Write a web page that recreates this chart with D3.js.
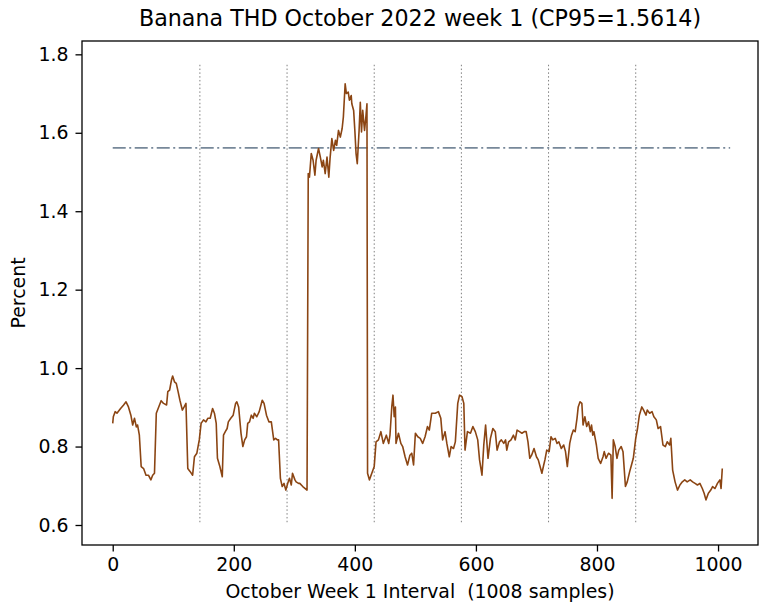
<!DOCTYPE html>
<html>
<head>
<meta charset="utf-8">
<script src="https://cdn.jsdelivr.net/npm/d3@7"></script>
<style>
  html, body { margin: 0; padding: 0; background: #fff; }
  svg { display: block; font-family: "DejaVu Sans", sans-serif; }
  text { white-space: pre; }
</style>
</head>
<body>
<svg id="chart" width="759" height="606"></svg>
<script>
// ---- data ----
const titleText = "Banana THD October 2022 week 1 (CP95=1.5614)";
const xLabelText = "October Week 1 Interval  (1008 samples)";
const yLabelText = "Percent";
const cp95 = 1.5614;
const hlineStart = 0, hlineEnd = 1020;
const dayMarks = [144, 288, 432, 576, 720, 864];
const dayMarkLow = 0.607, dayMarkHigh = 1.776;
const xTicks = [0, 200, 400, 600, 800, 1000];
const yTicks = [0.6, 0.8, 1.0, 1.2, 1.4, 1.6, 1.8];

const sampleIdx = [
  0,1,4,7,13,18,22,26,30,33,36,39,41,44,47,51,55,59,63,66,69,72,76,80,84,89,91,94,97,99,
  102,105,108,111,115,118,121,124,128,132,135,139,143,146,150,154,157,161,165,168,171,173,177,181,183,186,189,191,195,199,
  203,205,208,212,215,218,221,223,226,229,232,234,238,242,247,250,254,258,262,266,269,272,274,277,280,283,286,289,292,295,
  297,301,303,307,309,314,321,323,325,328,331,334,336,340,343,346,348,351,354,357,359,362,365,368,370,373,376,379,381,384,
  386,389,391,394,395,398,400,402,404,407,409,411,413,416,418,420,421,424,428,432,435,439,443,447,452,456,458,461,463,465,
  467,468,472,476,479,483,487,491,494,497,500,504,508,512,516,520,523,527,533,538,542,545,549,552,556,559,563,566,570,573,
  577,580,582,586,591,595,599,603,606,610,613,616,620,624,628,632,635,639,642,646,649,651,654,658,662,665,668,672,676,680,
  683,686,689,692,696,700,703,706,709,712,714,717,721,724,727,731,734,737,741,745,748,751,755,758,761,764,767,769,772,775,
  777,780,783,786,789,791,793,795,799,802,806,810,812,815,819,823,825,827,830,833,836,840,843,847,850,854,857,860,864,867,
  870,874,877,881,883,887,891,894,898,901,905,909,913,916,920,922,925,929,933,937,941,945,949,954,958,962,966,970,974,977,
  980,984,988,991,995,999,1003,1005,1007
];
const thd = [
  0.859,0.876,0.889,0.885,0.897,0.906,0.914,0.901,0.880,0.855,0.872,0.850,0.855,0.829,0.749,0.744,0.727,0.727,0.715,0.727,0.732,0.885,0.901,0.917,0.910,0.906,0.940,0.944,0.969,0.980,
  0.965,0.961,0.940,0.918,0.893,0.901,0.910,0.744,0.736,0.727,0.774,0.783,0.817,0.859,0.868,0.863,0.872,0.872,0.897,0.885,0.859,0.770,0.749,0.723,0.829,0.838,0.846,0.863,0.872,0.880,
  0.910,0.914,0.901,0.833,0.800,0.817,0.825,0.859,0.863,0.880,0.872,0.885,0.876,0.889,0.918,0.910,0.880,0.863,0.863,0.817,0.821,0.817,0.817,0.719,0.698,0.706,0.689,0.706,0.719,0.702,
  0.732,0.715,0.710,0.706,0.706,0.698,0.689,1.496,1.487,1.547,1.530,1.492,1.530,1.560,1.538,1.513,1.530,1.496,1.538,1.487,1.534,1.585,1.555,1.581,1.568,1.606,1.589,1.611,1.640,1.725,
  1.700,1.704,1.683,1.695,1.674,1.657,1.606,1.547,1.521,1.606,1.678,1.602,1.657,1.606,1.636,1.674,0.732,0.715,0.732,0.749,0.812,0.817,0.838,0.808,0.829,0.808,0.829,0.901,0.931,0.876,
  0.901,0.808,0.834,0.808,0.800,0.774,0.753,0.778,0.783,0.753,0.834,0.825,0.821,0.808,0.825,0.851,0.842,0.885,0.885,0.889,0.872,0.817,0.838,0.808,0.774,0.800,0.795,0.812,0.910,0.931,
  0.927,0.910,0.791,0.838,0.834,0.851,0.838,0.817,0.766,0.727,0.804,0.855,0.770,0.821,0.846,0.838,0.791,0.812,0.817,0.808,0.817,0.791,0.812,0.817,0.829,0.817,0.842,0.838,0.834,0.838,
  0.838,0.812,0.770,0.778,0.795,0.774,0.766,0.749,0.732,0.753,0.766,0.791,0.787,0.825,0.817,0.821,0.808,0.812,0.795,0.804,0.787,0.749,0.808,0.829,0.842,0.838,0.872,0.901,0.914,0.910,
  0.855,0.876,0.851,0.863,0.838,0.855,0.829,0.838,0.804,0.770,0.757,0.774,0.787,0.770,0.783,0.778,0.668,0.817,0.800,0.770,0.791,0.800,0.787,0.698,0.710,0.736,0.753,0.770,0.821,0.846,
  0.880,0.901,0.893,0.880,0.893,0.885,0.889,0.876,0.868,0.846,0.851,0.804,0.800,0.812,0.804,0.821,0.740,0.710,0.689,0.702,0.710,0.715,0.710,0.715,0.710,0.706,0.702,0.706,0.693,0.681,
  0.664,0.681,0.689,0.698,0.693,0.706,0.715,0.693,0.744
];

// ---- layout ----
const svg = d3.select("#chart");
const L = 82, R = 758, T = 41, B = 545;
const tickFont = 18.9, titleFont = 22.2;

const x = d3.scaleLinear().domain([-50.75, 1066]).range([L, R]);
const y = d3.scaleLinear().domain([0.549, 1.834]).range([B, T]);

const points = sampleIdx.map((s, i) => [s, thd[i]]);

// day separators
svg.append("g").selectAll("line").data(dayMarks).join("line")
  .attr("x1", d => x(d)).attr("x2", d => x(d))
  .attr("y1", y(dayMarkLow)).attr("y2", y(dayMarkHigh))
  .attr("stroke", "#808080").attr("stroke-width", 1)
  .attr("stroke-dasharray", "1.5,2.3");

// CP95 line
svg.append("line")
  .attr("x1", x(hlineStart)).attr("x2", x(hlineEnd))
  .attr("y1", y(cp95)).attr("y2", y(cp95))
  .attr("stroke", "#778899").attr("stroke-width", 1.9)
  .attr("stroke-dasharray", "13,3.5,2,3.5");

// series
svg.append("path").datum(points)
  .attr("fill", "none").attr("stroke", "#8B4513").attr("stroke-width", 1.6)
  .attr("stroke-linejoin", "round")
  .attr("d", d3.line().x(d => x(d[0])).y(d => y(d[1])));

// axes
const xAxis = svg.append("g").attr("transform", `translate(0,${B})`)
  .call(d3.axisBottom(x).tickValues(xTicks).tickFormat(d3.format("d")).tickSize(6.5).tickPadding(6.5));
const yAxis = svg.append("g").attr("transform", `translate(${L},0)`)
  .call(d3.axisLeft(y).tickValues(yTicks).tickFormat(d3.format(".1f")).tickSize(6.5).tickPadding(7));
[xAxis, yAxis].forEach(g => {
  g.select(".domain").remove();
  g.selectAll("line").attr("stroke", "#000").attr("stroke-width", 1.3);
  g.selectAll("text").attr("font-family", "DejaVu Sans, sans-serif").attr("font-size", tickFont).attr("fill", "#000");
});

// frame
svg.append("rect").attr("x", L).attr("y", T).attr("width", R - L).attr("height", B - T)
  .attr("fill", "none").attr("stroke", "#000").attr("stroke-width", 1.3);

// title & labels
svg.append("text").attr("x", (L + R) / 2).attr("y", 26).attr("text-anchor", "middle")
  .attr("font-size", titleFont).attr("fill", "#000").text(titleText);
svg.append("text").attr("x", (L + R) / 2).attr("y", 598).attr("text-anchor", "middle")
  .attr("font-size", tickFont).attr("fill", "#000").text(xLabelText);
svg.append("text").attr("transform", `translate(25,${(T + B) / 2}) rotate(-90)`).attr("text-anchor", "middle")
  .attr("font-size", tickFont).attr("fill", "#000").text(yLabelText);
</script>
</body>
</html>
